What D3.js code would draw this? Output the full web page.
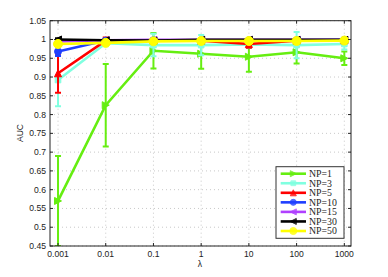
<!DOCTYPE html>
<html><head><meta charset="utf-8">
<script src="https://cdn.jsdelivr.net/npm/d3@7"></script>
<style>body{margin:0;background:#fff}svg{display:block}</style>
</head><body>
<script>
const lambdas = [0.001, 0.01, 0.1, 1, 10, 100, 1000];
const xTickLabels = ["0.001","0.01","0.1","1","10","100","1000"];
const yTicks = [0.45,0.5,0.55,0.6,0.65,0.7,0.75,0.8,0.85,0.9,0.95,1,1.05];
const seriesNames = ["NP=1","NP=3","NP=5","NP=10","NP=15","NP=30","NP=50"];
const np1 = [0.570, 0.825, 0.970, 0.962, 0.954, 0.966, 0.950];
const np1Err = [0.120, 0.110, 0.047, 0.040, 0.040, 0.030, 0.018];
const np3 = [0.892, 0.990, 0.985, 0.985, 0.987, 0.985, 0.988];
const np3Err = [0.070, 0.008, 0.030, 0.027, 0.010, 0.035, 0.015];
const np5 = [0.910, 0.997, 0.997, 0.997, 0.988, 0.997, 0.998];
const np5Err = [0.052, 0.008, 0.005, 0.004, 0.010, 0.005, 0.004];
const np10 = [0.968, 0.997, 0.998, 0.998, 0.998, 0.998, 0.999];
const np10Err = [0.012, 0.003, 0.003, 0.002, 0.002, 0.002, 0.002];
const np15 = [0.995, 0.998, 0.999, 0.999, 0.999, 0.999, 0.999];
const np15Err = [0.004, 0.002, 0.002, 0.002, 0.002, 0.002, 0.002];
const np30 = [1.000, 0.998, 0.997, 0.999, 0.999, 0.999, 0.999];
const np30Err = [0.003, 0.002, 0.002, 0.002, 0.002, 0.002, 0.002];
const np50 = [0.988, 0.991, 0.995, 0.996, 0.996, 0.996, 0.997];
const np50Err = [0.003, 0.002, 0.002, 0.002, 0.002, 0.002, 0.002];

const colors = ["#66ee11","#80ffe0","#ff0000","#1f3fff","#b040ff","#000000","#ffff00"];
const markers = ["tri-right","square","tri-up","circle","tri-left","tri-left","circle"];
const allVals = [np1,np3,np5,np10,np15,np30,np50];
const allErr = [np1Err,np3Err,np5Err,np10Err,np15Err,np30Err,np50Err];

const W=388,H=277;
const svg=d3.select("body").append("svg").attr("width",W).attr("height",H);
const L=50,R=351,T=20.7,B=246;
const x=d3.scaleLog().domain([Math.pow(10,-3.168),Math.pow(10,3.14)]).range([L,R]);
const y=d3.scaleLinear().domain([0.45,1.05]).range([B,T]);

svg.append("rect").attr("x",L).attr("y",T).attr("width",R-L).attr("height",B-T).attr("fill","#fff");
const g=svg.append("g");
lambdas.forEach(v=>g.append("line").attr("x1",x(v)).attr("x2",x(v)).attr("y1",T).attr("y2",B)
  .attr("stroke","#bbb").attr("stroke-width",0.8).attr("stroke-dasharray","1,3"));
yTicks.forEach(v=>g.append("line").attr("x1",L).attr("x2",R).attr("y1",y(v)).attr("y2",y(v))
  .attr("stroke","#bbb").attr("stroke-width",0.8).attr("stroke-dasharray","1,3"));

svg.append("clipPath").attr("id","clip").append("rect").attr("x",L).attr("y",T-4).attr("width",R-L).attr("height",B-T+4);
const plot=svg.append("g").attr("clip-path","url(#clip)");

function markerPath(type,s){
  const h=s/2;
  if(type==="tri-right") return `M${-h},${-h}L${h},0L${-h},${h}Z`;
  if(type==="tri-left") return `M${h},${-h}L${-h},0L${h},${h}Z`;
  if(type==="tri-up") return `M${-h},${h}L0,${-h}L${h},${h}Z`;
  if(type==="square") return `M${-h*0.8},${-h*0.8}H${h*0.8}V${h*0.8}H${-h*0.8}Z`;
  return d3.arc()({innerRadius:0,outerRadius:h,startAngle:0,endAngle:2*Math.PI});
}

const line=d3.line().x(d=>x(d[0])).y(d=>y(d[1]));
allVals.forEach((vals,i)=>{
  const c=colors[i];
  const sg=plot.append("g");
  const pts=lambdas.map((l,j)=>[l,vals[j],allErr[i][j]]);
  pts.forEach(p=>{
    const cx=x(p[0]);
    sg.append("line").attr("x1",cx).attr("x2",cx).attr("y1",y(p[1]-p[2])).attr("y2",y(p[1]+p[2])).attr("stroke",c).attr("stroke-width",2);
    [p[1]-p[2],p[1]+p[2]].forEach(v=>sg.append("line").attr("x1",cx-3).attr("x2",cx+3).attr("y1",y(v)).attr("y2",y(v)).attr("stroke",c).attr("stroke-width",2));
  });
  sg.append("path").datum(pts).attr("d",line).attr("fill","none").attr("stroke",c).attr("stroke-width",2.6);
  pts.forEach(p=>{
    const sz = i===6?9:7;
    sg.append("path").attr("d",markerPath(markers[i],sz)).attr("transform",`translate(${x(p[0])},${y(p[1])})`)
      .attr("fill",c).attr("stroke",c).attr("stroke-width",1);
  });
});

svg.append("rect").attr("x",L).attr("y",T).attr("width",R-L).attr("height",B-T).attr("fill","none").attr("stroke","#222").attr("stroke-width",1);
lambdas.forEach(v=>{
  svg.append("line").attr("x1",x(v)).attr("x2",x(v)).attr("y1",B).attr("y2",B-3).attr("stroke","#222");
  svg.append("line").attr("x1",x(v)).attr("x2",x(v)).attr("y1",T).attr("y2",T+3).attr("stroke","#222");
});
yTicks.forEach(v=>{
  svg.append("line").attr("x1",L).attr("x2",L+3).attr("y1",y(v)).attr("y2",y(v)).attr("stroke","#222");
  svg.append("line").attr("x1",R).attr("x2",R-3).attr("y1",y(v)).attr("y2",y(v)).attr("stroke","#222");
});
const tf="Liberation Sans, Arial, sans-serif";
lambdas.forEach((v,i)=>svg.append("text").attr("x",x(v)).attr("y",B+10.8).attr("text-anchor","middle")
  .attr("font-family",tf).attr("font-size",8.6).attr("fill","#222").text(xTickLabels[i]));
yTicks.forEach(v=>svg.append("text").attr("x",L-4).attr("y",y(v)+3).attr("text-anchor","end")
  .attr("font-family",tf).attr("font-size",8.6).attr("fill","#222").text(d3.format("")(+v.toFixed(2))));
svg.append("text").attr("x",200).attr("y",267).attr("text-anchor","middle").attr("font-family",tf).attr("font-size",8.6).attr("fill","#222").text("λ");
svg.append("text").attr("transform","translate(23,133) rotate(-90)").attr("text-anchor","middle").attr("font-family",tf).attr("font-size",8.6).attr("fill","#222").text("AUC");

const lx=276,ly=166.7,lw=68,lh=71.6;
svg.append("rect").attr("x",lx).attr("y",ly).attr("width",lw).attr("height",lh).attr("fill","#fff").attr("stroke","#333").attr("stroke-width",1);
seriesNames.forEach((n,i)=>{
  const yy=173.7+i*9.55;
  svg.append("line").attr("x1",280.7).attr("x2",306).attr("y1",yy).attr("y2",yy).attr("stroke",colors[i]).attr("stroke-width",2.6);
  svg.append("path").attr("d",markerPath(markers[i],i===6?7:6)).attr("transform",`translate(293.3,${yy})`).attr("fill",colors[i]).attr("stroke",colors[i]).attr("opacity",0.8);
  svg.append("text").attr("x",309).attr("y",yy+3.3).attr("font-family","Liberation Serif, Times New Roman, serif").attr("font-size",9.8).attr("fill","#222").text(n);
});
</script>
</body></html>
